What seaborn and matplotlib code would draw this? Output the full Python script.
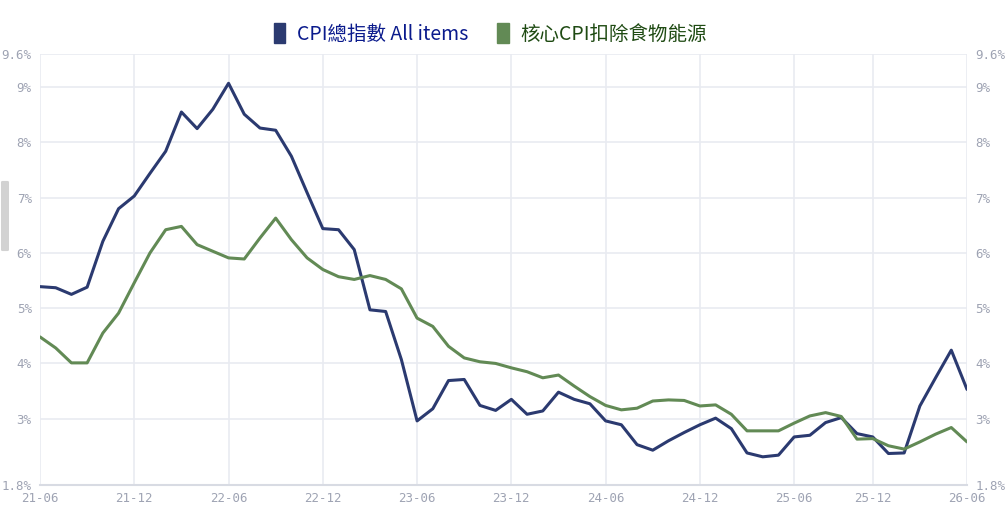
import numpy as np
import pandas as pd
import matplotlib
matplotlib.use("Agg")
import matplotlib.pyplot as plt
import matplotlib.patches as mpatches
import seaborn as sns

# months shown on the category axis (25-10 has no release)
months = ["21-06", "21-07", "21-08", "21-09", "21-10", "21-11", "21-12",
          "22-01", "22-02", "22-03", "22-04", "22-05", "22-06", "22-07",
          "22-08", "22-09", "22-10", "22-11", "22-12", "23-01", "23-02",
          "23-03", "23-04", "23-05", "23-06", "23-07", "23-08", "23-09",
          "23-10", "23-11", "23-12", "24-01", "24-02", "24-03", "24-04",
          "24-05", "24-06", "24-07", "24-08", "24-09", "24-10", "24-11",
          "24-12", "25-01", "25-02", "25-03", "25-04", "25-05", "25-06",
          "25-07", "25-08", "25-09", "25-11", "25-12", "26-01", "26-02",
          "26-03", "26-04", "26-05", "26-06"]

cpi_all = [5.39, 5.37, 5.25, 5.38, 6.21, 6.80, 7.03, 7.44, 7.84, 8.55,
           8.25, 8.60, 9.07, 8.51, 8.26, 8.22, 7.75, 7.09, 6.44, 6.42,
           6.06, 4.97, 4.94, 4.07, 2.96, 3.18, 3.69, 3.71, 3.24, 3.15,
           3.35, 3.08, 3.14, 3.48, 3.35, 3.27, 2.96, 2.89, 2.53, 2.43,
           2.60, 2.75, 2.89, 3.01, 2.82, 2.38, 2.31, 2.34, 2.67, 2.70,
           2.93, 3.02, 2.73, 2.67, 2.37, 2.38, 3.23, 3.74, 4.24, 3.53]

cpi_core = [4.48, 4.28, 4.01, 4.01, 4.55, 4.91, 5.46, 6.00, 6.42, 6.48,
            6.15, 6.03, 5.91, 5.89, 6.27, 6.63, 6.24, 5.91, 5.70, 5.57,
            5.52, 5.59, 5.52, 5.35, 4.82, 4.67, 4.31, 4.10, 4.03, 4.00,
            3.92, 3.85, 3.74, 3.79, 3.59, 3.40, 3.24, 3.16, 3.19, 3.32,
            3.34, 3.33, 3.23, 3.25, 3.08, 2.78, 2.78, 2.78, 2.92, 3.05,
            3.11, 3.04, 2.63, 2.64, 2.51, 2.45, 2.58, 2.72, 2.84, 2.58]

tick_labels = ["21-06", "21-12", "22-06", "22-12", "23-06", "23-12",
               "24-06", "24-12", "25-06", "25-12", "26-06"]
y_ticks = [1.8, 3, 4, 5, 6, 7, 8, 9, 9.6]
y_tick_labels = ["1.8%", "3%", "4%", "5%", "6%", "7%", "8%", "9%", "9.6%"]

name_all = "CPI總指數 All items"
name_core = "核心CPI扣除食物能源"

df = pd.DataFrame({
    "idx": list(range(len(months))) * 2,
    "value": cpi_all + cpi_core,
    "series": [name_all] * len(months) + [name_core] * len(months),
})

line_blue = "#2b3a70"
line_green = "#628a55"
grid_col = "#e9ebf1"
tick_col = "#9ea3b3"

sns.set_theme(style="white")
plt.rcParams["font.family"] = ["Noto Sans CJK TC", "DejaVu Sans"]

fig = plt.figure(figsize=(10.05, 5.31), dpi=100)
ax = fig.add_axes([40 / 1005, 1 - 485 / 531, 927 / 1005, 431 / 531])

sns.lineplot(data=df, x="idx", y="value", hue="series",
             palette={name_all: line_blue, name_core: line_green},
             linewidth=2.2, legend=False, ax=ax)
for ln in ax.lines:
    ln.set_solid_joinstyle("round")
    ln.set_solid_capstyle("round")

ax.set_xlim(0, len(months) - 1)
ax.set_ylim(1.8, 9.6)

tick_pos = [months.index(t) for t in tick_labels]
ax.set_xticks(tick_pos)
ax.set_xticklabels(tick_labels)
ax.set_yticks(y_ticks)
ax.set_yticklabels(y_tick_labels)

ax.grid(True, color=grid_col, linewidth=1.2)
ax.set_axisbelow(True)
for side in ["top", "left", "right"]:
    ax.spines[side].set_visible(False)
ax.spines["bottom"].set_color("#d8dbe3")
ax.spines["bottom"].set_linewidth(1.5)

ax.tick_params(axis="both", length=0, colors=tick_col, labelsize=9)
ax.tick_params(axis="y", labelright=True, pad=6)
ax.tick_params(axis="x", pad=5)
for lbl in ax.get_xticklabels() + ax.get_yticklabels():
    lbl.set_fontfamily("DejaVu Sans Mono")
for t in ax.yaxis.get_major_ticks():
    t.label2.set_fontfamily("DejaVu Sans Mono")
ax.set_xlabel("")
ax.set_ylabel("")

# legend with bar-shaped keys
handles = [mpatches.Patch(color=line_blue, label=name_all),
           mpatches.Patch(color=line_green, label=name_core)]
leg = fig.legend(handles=handles, loc="center", bbox_to_anchor=(0.488, 1 - 34 / 531),
                 ncol=2, frameon=False, fontsize=14, handlelength=0.6,
                 handleheight=1.2, handletextpad=0.6, columnspacing=1.5)
leg.get_texts()[0].set_color("#0a1a8c")
leg.get_texts()[1].set_color("#1e4a12")

# small scrollbar tab on the left edge
fig.patches.append(mpatches.FancyBboxPatch(
    (3 / 1005, 1 - 250 / 531), 4 / 1005, 68 / 531,
    boxstyle="round,pad=0.002", transform=fig.transFigure,
    facecolor="#d2d2d2", edgecolor="none"))

fig.savefig("out.png", dpi=100)
